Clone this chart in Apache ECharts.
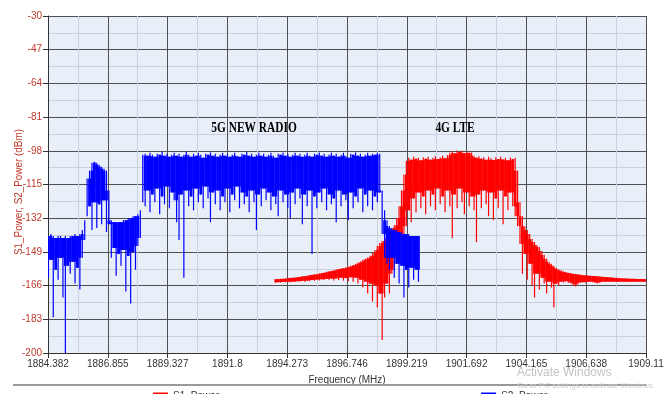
<!DOCTYPE html>
<html>
<head>
<meta charset="utf-8">
<script src="https://cdn.jsdelivr.net/npm/echarts@6/dist/echarts.min.js"></script>
<style>html,body{margin:0;padding:0;background:#fff}#c{width:667px;height:394px}</style>
</head>
<body>
<div id="c"></div>
<script>
// ---- axis definition ----
const X_MIN = 1884.382, X_STEP = 2.4728;
const Y_MIN = -200, Y_STEP = 17;
const xTickLabels = ['1884.382','1886.855','1889.327','1891.8','1894.273','1896.746','1899.219','1901.692','1904.165','1906.638','1909.11'];
const yTickLabels = ['-200','-183','-166','-149','-132','-115','-98','-81','-64','-47','-30'];

// ---- spectrum samples (MHz grid, 0.1 MHz per sample) ----
const SAMPLE = 0.1;
const s2Start = 1884.40;   // S2_Power (blue), upper / lower envelope per sample, dBm
const s2Hi = [
 -141,-140,-141,-142,-141,-141,-142,-141,-142,-141,-141,-140,-141,-140,-138,
 -133,-112,
 -108,-104,-103.5,-104,-105,-106,-107,-108,
 -118,
 -133,-134,-134,-134,-134,-133,-133,-132,-132,-131,-131,-130,-128,
 -100,
 -99.5,-100.5,-99,-100,-101,-99.5,-100,-98.5,-100.5,-99.5,
 -101,-100,-99,-100.5,-99.5,-101,-100,-98.5,-100,-101,
 -99.5,-100.5,-99,-100,-101.5,-99.5,-100,-98.8,-100.5,-99.5,
 -101,-100,-99,-100.5,-99.5,-101,-100,-99,-100.5,-101,
 -99.5,-100,-98.5,-100.5,-99.5,-101,-100,-99,-100.5,-99.5,
 -101,-100,-99,-100.5,-101.5,-99.5,-100,-98.8,-100.5,-99.5,
 -101,-100,-99,-100.5,-99.5,-101,-100,-99,-100.5,-101,
 -99.5,-100,-98.8,-100.5,-99.5,-101,-100,-99,-100.5,-99.5,
 -101,-100,-99,-100.5,-101.5,-99.5,-100,-98.8,-100.5,-99.5,
 -101,-100,-99,-100.5,-99.5,-100,-99,-99.5,
 -118,-128,-133,-136,-137,-138,-138,-139,-139,-140,-140,-140,-141,-141,-141,-141
];
const s2Lo = [
 -162,-153,-182,-158,-163,-152,-172,-200,-156,-160,-154,-165,-157,-168,-152,
 -143,-131,
 -126,-138,-124,-137,-125,-135,-123,-139,
 -135,
 -152,-147,-161,-150,-156,-148,-169,-151,-175,-149,-158,-146,-142,
 -124,
 -126,-118,-129,-120,-124,-117,-130,-121,-125,-116,
 -127,-119,-123,-134,-143,-120,-162,-118,-126,-121,
 -128,-117,-124,-120,-127,-116,-122,-134,-119,-125,
 -118,-128,-121,-124,-117,-129,-120,-123,-116,-127,
 -119,-125,-121,-129,-118,-124,-138,-120,-126,-117,
 -123,-119,-128,-121,-125,-131,-118,-124,-120,-127,
 -132,-119,-125,-117,-122,-135,-120,-126,-118,-150,
 -121,-127,-119,-124,-117,-128,-120,-125,-122,-134,
 -118,-126,-120,-123,-133,-119,-127,-121,-124,-117,
 -129,-120,-126,-118,-128,-121,-124,-119,
 -140,-152,-155,-158,-152,-162,-155,-165,-156,-172,-158,-167,-157,-163,-158,-164
];

const s1Start = 1893.80;   // S1_Power (red), upper / lower envelope per sample, dBm
const s1Hi = [
 -162.8,-162.7,-162.5,-162.6,-162.3,-162.2,-162,-162.1,-161.8,-161.7,
 -161.5,-161.2,-161.3,-160.9,-160.7,-160.5,-160.2,-160.3,-159.8,-159.6,
 -159.4,-159,-158.8,-158.5,-158.3,-157.8,-157.6,-157.2,-157.3,-156.8,
 -156.5,-156,-155.6,-155,-154.4,-153.8,-153,-152.5,-151.8,-151,
 -149.5,-148,-146,-144.5,-143.5,-142,-140,-138.5,-137,-135.5,
 -132,-126,-118,-110,-103,
 -101.5,-102.5,-101,-102,-101.5,-102.8,-101.2,-102,-101,-102.5,
 -101.5,-100.8,-102.2,-101.3,-100.5,-101.8,-100.2,-99,-98.2,-99.3,
 -97.8,-98.6,-98,-99.2,-98.4,-99,-98.8,-100.5,-101.5,-100.8,
 -102,-101.2,-102.5,-101,-101.8,-102.6,-101.3,-102.2,-101,-102.4,
 -101.6,-102.8,-101.4,-102.2,-101.5,
 -108,-124,-131,-136,-138,-140,-142.5,-144,-145.5,-146.5,
 -148.5,-150.5,-152.5,-154,-155,-156,-157,-157.8,-158.3,-158.8,
 -159.2,-159.5,-159.7,-160,-160.1,-160.3,-160.5,-160.6,-160.8,-160.9,
 -161,-161.1,-161.2,-161.3,-161.4,-161.5,-161.6,-161.7,-161.8,-161.9,
 -162,-162.1,-162.2,-162.3,-162.4,-162.4,-162.5,-162.5,-162.6,-162.6,
 -162.7,-162.7,-162.7,-162.8
];
const s1Lo = [
 -164.5,-164.3,-164.5,-164.2,-164.4,-164,-164.3,-164,-164.2,-163.8,
 -164,-163.6,-164,-163.5,-163.8,-163.2,-163.6,-163,-163.4,-162.8,
 -163.2,-162.6,-163,-162.5,-163.4,-162.4,-163.2,-162,-163.5,-162.2,
 -163.8,-161.8,-164,-162,-165,-163,-167,-164,-170,-165,
 -174,-166,-177,-170,-193.5,-172,-165,-170,-160,-158,
 -150,-148,-145,-140,-136,
 -128,-134,-122,-129,-119,-127,-121,-130,-118,-126,
 -120,-128,-117,-125,-121,-129,-118,-126,-142,-120,
 -127,-117,-124,-130,-119,-126,-121,-128,-144,-120,
 -127,-118,-125,-131,-119,-133,-122,-127,-118,-135,
 -121,-128,-119,-126,-131,
 -136,-145,-160,-150,-163,-155,-166,-172,-160,-168,
 -162,-165,-170,-164,-167,-177,-165,-166,-164,-164.5,
 -163.8,-164.5,-165,-166,-166.5,-165.5,-164.5,-164.3,-164.5,-164.2,
 -164,-164.3,-164.6,-165,-164.5,-164.2,-164,-164.1,-164,-164,
 -164.1,-164,-164,-164,-164.1,-164,-164,-164,-164.1,-164,
 -164,-164,-164,-164
];
const seriesNames = ['S1_Power', 'S2_Power'];
const seriesColors = ['#ff0000', '#0000ff'];

// ---- build library data (axis units: one tick interval = 1) ----
const toX = f => (f - X_MIN) / X_STEP;
const toY = v => (v - Y_MIN) / Y_STEP;
function build(start, hi, lo) {
  return hi.map((h, i) => [toX(start + i * SAMPLE), toY(lo[i]), toY(h)]);
}
const s1Data = build(s1Start, s1Hi, s1Lo);
const s2Data = build(s2Start, s2Hi, s2Lo);

// each sample: a solid body shared with its neighbours plus a thin needle to its own extremes
function makeRender(data) {
  return function (params, api) {
    const i = params.dataIndex;
    const x = api.value(0);
    const prev = data[Math.max(0, i - 1)], next = data[Math.min(data.length - 1, i + 1)];
    const coreTop = Math.min(api.value(2), prev[2], next[2]);
    const coreBot = Math.max(api.value(1), prev[1], next[1]);
    const w = api.size([SAMPLE / X_STEP, 0])[0] + 0.4;
    const pTop = api.coord([x, api.value(2)]);
    const pBot = api.coord([x, api.value(1)]);
    const color = api.visual('color');
    const children = [{
      type: 'rect',
      shape: { x: pTop[0] - 0.6, y: pTop[1], width: 1.2, height: pBot[1] - pTop[1] },
      style: { fill: color }
    }];
    if (coreTop > coreBot) {
      const cT = api.coord([x, coreTop]), cB = api.coord([x, coreBot]);
      children.push({
        type: 'rect',
        shape: { x: cT[0] - w / 2, y: cT[1], width: w, height: cB[1] - cT[1] },
        style: { fill: color }
      });
    }
    return { type: 'group', children: children };
  };
}

const NARROW = "'Liberation Sans Narrow','Arial Narrow','Liberation Sans',Arial,sans-serif";
const chart = echarts.init(document.getElementById('c'), null, { renderer: 'canvas' });
chart.setOption({
  animation: false,
  backgroundColor: '#ffffff',
  color: seriesColors,
  grid: { left: 48, right: 21, top: 16, bottom: 41, show: true, backgroundColor: '#e9eff9', borderWidth: 0 },
  xAxis: {
    type: 'value', min: 0, max: 10, interval: 1,
    name: 'Frequency (MHz)', nameLocation: 'middle', nameGap: 22,
    nameTextStyle: { fontSize: 10, color: '#333', fontFamily: NARROW },
    axisLine: { show: true, lineStyle: { color: '#333', width: 1 } },
    axisTick: { show: true, length: 5, lineStyle: { color: '#333' } },
    axisLabel: { margin: 6, fontSize: 10, color: '#333', fontFamily: NARROW,
      showMinLabel: true, showMaxLabel: true,
      formatter: v => xTickLabels[Math.round(v)] },
    splitLine: { show: true, lineStyle: { color: '#505050', width: 1 } },
    minorTick: { show: false, splitNumber: 2 },
    minorSplitLine: { show: true, lineStyle: { color: '#c9d1e0', width: 1 } }
  },
  yAxis: {
    type: 'value', min: 0, max: 10, interval: 1,
    axisLine: { show: true, lineStyle: { color: '#333', width: 1 } },
    axisTick: { show: true, length: 5, lineStyle: { color: '#333' } },
    axisLabel: { margin: 6, fontSize: 10, color: '#c0392b', fontFamily: NARROW,
      showMinLabel: true, showMaxLabel: true,
      formatter: v => yTickLabels[Math.round(v)] },
    splitLine: { show: true, lineStyle: { color: '#505050', width: 1 } },
    minorTick: { show: false, splitNumber: 2 },
    minorSplitLine: { show: true, lineStyle: { color: '#c9d1e0', width: 1 } }
  },
  legend: {
    left: 148, top: 386, itemGap: 262, itemWidth: 15, itemHeight: 7, icon: 'rect',
    textStyle: { fontSize: 10, color: '#333', fontFamily: NARROW },
    data: seriesNames.map((n, k) => ({ name: n, icon: 'rect', itemStyle: { color: seriesColors[k] } }))
  },
  series: [
    { name: seriesNames[0], type: 'custom', renderItem: makeRender(s1Data), clip: true,
      encode: { x: 0, y: [1, 2] }, itemStyle: { color: seriesColors[0] }, data: s1Data },
    { name: seriesNames[1], type: 'custom', renderItem: makeRender(s2Data), clip: true,
      encode: { x: 0, y: [1, 2] }, itemStyle: { color: seriesColors[1] }, data: s2Data }
  ],
  graphic: [
    { type: 'text', x: 19, y: 192, rotation: Math.PI / 2, scaleX: 0.9, z: 10,
      style: { text: 'S1_Power, S2_Power (dBm)', fill: '#c0392b', fontSize: 11, fontFamily: NARROW,
        textAlign: 'center', textVerticalAlign: 'middle' } },
    { type: 'text', x: 254, y: 128, scaleX: 0.76, z: 10,
      style: { text: '5G NEW RADIO', fill: '#000', fontSize: 15, fontWeight: 'bold',
        fontFamily: "'Liberation Serif','Times New Roman',serif", textAlign: 'center', textVerticalAlign: 'middle' } },
    { type: 'text', x: 455, y: 128, scaleX: 0.76, z: 10,
      style: { text: '4G LTE', fill: '#000', fontSize: 15, fontWeight: 'bold',
        fontFamily: "'Liberation Serif','Times New Roman',serif", textAlign: 'center', textVerticalAlign: 'middle' } },
    { type: 'line', z: 10, shape: { x1: 13, y1: 385, x2: 647, y2: 385 }, style: { stroke: '#9a9a9a', lineWidth: 2 } },
    { type: 'text', x: 517, y: 373, z: 10,
      style: { text: 'Activate Windows', fill: '#c4c4c4', fontSize: 12, fontFamily: "'Liberation Sans',Arial,sans-serif",
        textVerticalAlign: 'middle' } },
    { type: 'text', x: 517, y: 386, z: 10,
      style: { text: 'Go to PC settings to activate Windows.', fill: '#cfcfcf', fontSize: 8, fontFamily: "'Liberation Sans',Arial,sans-serif",
        textVerticalAlign: 'middle' } }
  ]
});
</script>
</body>
</html>
